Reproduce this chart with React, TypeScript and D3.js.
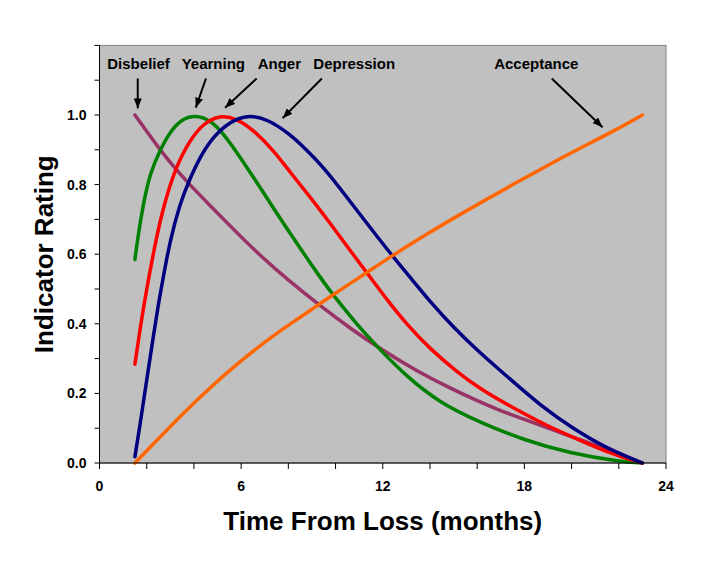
import React from "react";
import * as d3 from "d3";

// ---- data (months, indicator rating) ----
const disbeliefMonths = [1.5, 2.56, 3.2, 3.76, 4.68, 5.67, 6.8, 8.0, 9.34, 10.6, 11.89, 13.44, 14.85, 16.12, 16.97, 17.96, 19.37, 20.36, 21.77, 23];
const disbeliefValues = [1.0, 0.9, 0.847, 0.804, 0.74, 0.672, 0.596, 0.525, 0.452, 0.388, 0.328, 0.264, 0.215, 0.175, 0.151, 0.126, 0.091, 0.067, 0.033, 0];

const yearningMonths = [1.5, 1.65, 1.86, 2.14, 2.56, 2.99, 3.48, 4.05, 4.68, 5.25, 5.95, 6.8, 7.51, 8.07, 9.48, 9.91, 10.9, 11.89, 13.02, 14.43, 16.12, 17.96, 19.94, 22.06, 23];
const yearningValues = [0.585, 0.66, 0.746, 0.832, 0.899, 0.952, 0.988, 1.0, 0.986, 0.947, 0.88, 0.792, 0.718, 0.66, 0.52, 0.482, 0.398, 0.325, 0.248, 0.172, 0.117, 0.066, 0.028, 0.004, 0];

const angerMonths = [1.5, 1.75, 2.0, 2.3, 2.64, 3.2, 3.83, 4.4, 5.1, 5.81, 6.52, 7.36, 8.07, 8.92, 9.77, 10.6, 11.46, 12.17, 13.02, 14.0, 15.14, 16.12, 17.53, 18.95, 20.36, 21.77, 23];
const angerValues = [0.284, 0.4, 0.5, 0.61, 0.72, 0.847, 0.928, 0.976, 1.0, 0.99, 0.957, 0.899, 0.836, 0.765, 0.689, 0.612, 0.535, 0.47, 0.398, 0.328, 0.262, 0.213, 0.158, 0.107, 0.065, 0.024, 0];

const depressionMonths = [1.5, 1.72, 2.0, 2.28, 2.49, 2.68, 2.99, 3.41, 3.76, 4.26, 4.82, 5.53, 6.24, 7.08, 8.07, 8.78, 9.48, 10.47, 11.32, 12.31, 13.23, 14.0, 14.99, 16.12, 17.25, 18.66, 20.08, 21.49, 23];
const depressionValues = [0.018, 0.11, 0.239, 0.363, 0.455, 0.526, 0.64, 0.745, 0.806, 0.88, 0.938, 0.981, 1.0, 0.99, 0.945, 0.899, 0.851, 0.765, 0.689, 0.603, 0.528, 0.464, 0.39, 0.316, 0.25, 0.166, 0.098, 0.042, 0];

const acceptanceMonths = [1.5, 2.85, 4.26, 5.67, 7.08, 8.07, 9.26, 9.91, 10.8, 11.32, 12.31, 13.72, 15.14, 16.12, 17.53, 18.95, 20.36, 21.77, 23];
const acceptanceValues = [0, 0.095, 0.19, 0.277, 0.352, 0.399, 0.454, 0.484, 0.524, 0.547, 0.592, 0.652, 0.709, 0.747, 0.801, 0.854, 0.905, 0.953, 1.0];

const seriesNames = ["Disbelief", "Yearning", "Anger", "Depression", "Acceptance"];
const seriesColors = ["#993366", "#008000", "#FF0000", "#000080", "#FF6600"];
const seriesMonths = [disbeliefMonths, yearningMonths, angerMonths, depressionMonths, acceptanceMonths];
const seriesValues = [disbeliefValues, yearningValues, angerValues, depressionValues, acceptanceValues];

// annotation positions in data units (label start, arrow tail, arrow head)
const labelMonths = [0.33, 3.48, 6.7, 9.06, 16.72];
const labelValue = 1.132;
const arrowFromMonths = [1.62, 4.51, 6.66, 9.42, 19.16];
const arrowFromValues = [1.105, 1.105, 1.105, 1.105, 1.105];
const arrowToMonths = [1.62, 4.08, 5.32, 7.76, 21.31];
const arrowToValues = [1.019, 1.021, 1.021, 0.991, 0.965];

const xTickValues = [0, 2, 4, 6, 8, 10, 12, 14, 16, 18, 20, 22, 24];
const xTickLabels = [0, 6, 12, 18, 24];
const yTickValues = [0, 0.1, 0.2, 0.3, 0.4, 0.5, 0.6, 0.7, 0.8, 0.9, 1.0, 1.1, 1.2];
const yTickLabels = [0, 0.2, 0.4, 0.6, 0.8, 1.0];

const W = 718;
const H = 572;
const FONT = "'Liberation Sans', Arial, Helvetica, sans-serif";

export default function App() {
  const x = d3.scaleLinear().domain([0, 24]).range([99.5, 666]);
  const y = d3.scaleLinear().domain([0, 1.2]).range([463, 45.4]);
  const line = d3
    .line<[number, number]>()
    .x((d) => x(d[0]))
    .y((d) => y(d[1]))
    .curve(d3.curveBasis);

  const x0 = x(0), x1 = x(24), y0 = y(0), y1 = y(1.2);

  return (
    <svg
      width={W}
      height={H}
      viewBox={`0 0 ${W} ${H}`}
      style={{ position: "absolute", left: 0, top: 0, background: "#fff" }}
      fontFamily={FONT}
    >
      <defs>
        <marker id="ah" viewBox="0 0 10 8" refX="10" refY="4" markerWidth="10" markerHeight="8" markerUnits="userSpaceOnUse" orient="auto">
          <path d="M0,0 L10,4 L0,8 z" fill="#000" />
        </marker>
      </defs>
      <rect x={0} y={0} width={W} height={H} fill="#fff" />
      <rect x={x0} y={y1} width={x1 - x0} height={y0 - y1} fill="#C0C0C0" stroke="#808080" strokeWidth={1} />

      {/* series */}
      {seriesNames.map((name, i) => {
        const pts = seriesMonths[i].map((m, j) => [m, seriesValues[i][j]] as [number, number]);
        return (
          <path key={name} d={line(pts) || ""} fill="none" stroke={seriesColors[i]} strokeWidth={3.5} strokeLinecap="round" strokeLinejoin="round" />
        );
      })}

      {/* axes */}
      <line x1={x0} x2={x0} y1={y1} y2={y0} stroke="#000" strokeWidth={1} />
      <line x1={x0} x2={x1} y1={y0} y2={y0} stroke="#000" strokeWidth={1} />
      {yTickValues.map((v) => (
        <line key={"yt" + v} x1={x0 - 5} x2={x0} y1={y(v)} y2={y(v)} stroke="#000" strokeWidth={1} />
      ))}
      {yTickLabels.map((v) => (
        <text key={"yl" + v} x={x0 - 13} y={y(v) + 5} textAnchor="end" fontSize={14} fontWeight="bold" fill="#000">
          {v.toFixed(1)}
        </text>
      ))}
      {xTickValues.map((v) => (
        <line key={"xt" + v} x1={x(v)} x2={x(v)} y1={y0} y2={y0 + 6} stroke="#000" strokeWidth={1} />
      ))}
      {xTickLabels.map((v) => (
        <text key={"xl" + v} x={x(v)} y={491} textAnchor="middle" fontSize={14} fontWeight="bold" fill="#000">
          {v}
        </text>
      ))}

      {/* titles */}
      <text x={(x0 + x1) / 2} y={530} textAnchor="middle" fontSize={26} fontWeight="bold" fill="#000">
        Time From Loss (months)
      </text>
      <text transform={`translate(52.5, ${(y0 + y1) / 2}) rotate(-90)`} textAnchor="middle" fontSize={26} fontWeight="bold" fill="#000">
        Indicator Rating
      </text>

      {/* annotations */}
      {seriesNames.map((name, i) => (
        <g key={"ann" + name}>
          <text x={x(labelMonths[i])} y={y(labelValue)} fontSize={15} fontWeight="bold" fill="#000">
            {name}
          </text>
          <line
            x1={x(arrowFromMonths[i])}
            y1={y(arrowFromValues[i])}
            x2={x(arrowToMonths[i])}
            y2={y(arrowToValues[i])}
            stroke="#000"
            strokeWidth={2}
            markerEnd="url(#ah)"
          />
        </g>
      ))}
    </svg>
  );
}
